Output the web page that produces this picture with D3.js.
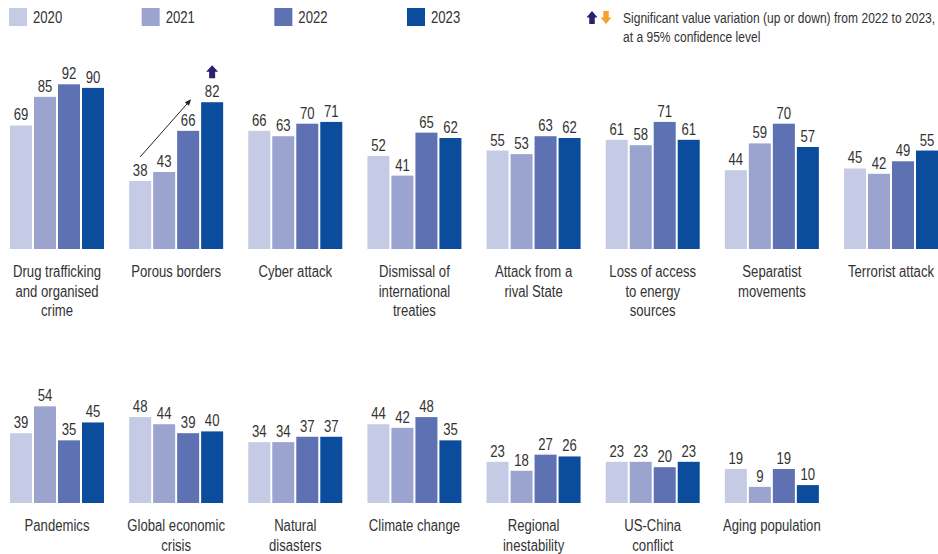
<!DOCTYPE html>
<html><head><meta charset="utf-8">
<script src="https://cdn.jsdelivr.net/npm/d3@7/dist/d3.min.js"></script>
<style>body{margin:0;background:#fff}svg{display:block}text{font-family:"Liberation Sans",Arial,sans-serif;fill:#333}</style>
</head><body><svg id="c" width="938" height="554"></svg>
<script>
const years = ["2020","2021","2022","2023"];
const row1Categories = [["Drug trafficking","and organised","crime"],["Porous borders"],["Cyber attack"],["Dismissal of","international","treaties"],["Attack from a","rival State"],["Loss of access","to energy","sources"],["Separatist","movements"],["Terrorist attack"]];
const row2Categories = [["Pandemics"],["Global economic","crisis"],["Natural","disasters"],["Climate change"],["Regional","inestability"],["US-China","conflict"],["Aging population"]];
const values2020 = [69,38,66,52,55,61,44,45, 39,48,34,44,23,23,19];
const values2021 = [85,43,63,41,53,58,59,42, 54,44,34,42,18,23,9];
const values2022 = [92,66,70,65,63,71,70,49, 35,39,37,48,27,20,19];
const values2023 = [90,82,71,62,62,61,57,55, 45,40,37,35,26,23,10];
const significantUp = ["Porous borders"];
const colors = ["#c6cbe5","#9ba4cf","#5d71b3","#0b4c9c"];
const legendNote = ["Significant value variation (up or down) from 2022 to 2023,","at a 95% confidence level"];

const svg = d3.select("#c");
const SX = 0.82, FS = 16;
function txt(g, x, y, s, anchor, size){
  return g.append("text").attr("transform",`translate(${x},${y}) scale(${SX},1)`)
    .attr("text-anchor",anchor||"start").style("font-size",(size||FS)+"px").text(s);
}
function arrowPath(cx, top, h, w, up){
  const hw=w/2, sw=w*0.25, hh=h*0.5;
  if(up) return `M${cx},${top} L${cx+hw},${top+hh} L${cx+sw},${top+hh} L${cx+sw},${top+h} L${cx-sw},${top+h} L${cx-sw},${top+hh} L${cx-hw},${top+hh} Z`;
  const b=top+h;
  return `M${cx},${b} L${cx+hw},${b-hh} L${cx+sw},${b-hh} L${cx+sw},${top} L${cx-sw},${top} L${cx-sw},${b-hh} L${cx-hw},${b-hh} Z`;
}

// legend
const legX = d3.scalePoint().domain(years).range([9,407]);
const lg = svg.append("g");
years.forEach((y,i)=>{
  lg.append("rect").attr("x",legX(y)).attr("y",8).attr("width",18).attr("height",18).attr("fill",colors[i]);
  txt(lg, legX(y)+24, 23, y);
});
lg.append("path").attr("d",arrowPath(592,11,13,11,true)).attr("fill","#2a2270");
lg.append("path").attr("d",arrowPath(606,11,13,11,false)).attr("fill","#f7a133");
txt(lg, 623, 23, legendNote[0], "start", 14.7);
txt(lg, 623, 42, legendNote[1], "start", 14.7);

const series = [values2020,values2021,values2022,values2023];
const panel = d3.scaleBand().domain(d3.range(8)).range([10,938]).paddingInner(0.211).paddingOuter(0);
const bar = d3.scaleBand().domain(years).range([0,panel.bandwidth()]).paddingInner(0.083).paddingOuter(0);
const yH = d3.scaleLinear().domain([0,100]).range([0,179]);
const rows = [{cats:row1Categories, base:249, off:0},{cats:row2Categories, base:503, off:8}];

rows.forEach(r=>{
  r.cats.forEach((lines,ci)=>{
    const idx = r.off+ci;
    const g = svg.append("g").attr("transform",`translate(${panel(ci)},0)`);
    years.forEach((yr,si)=>{
      const v = series[si][idx];
      g.append("rect").attr("x",bar(yr)).attr("width",bar.bandwidth())
        .attr("y",r.base-yH(v)).attr("height",yH(v)).attr("fill",colors[si]);
      txt(g, bar(yr)+bar.bandwidth()/2, r.base-yH(v)-5, String(v), "middle");
    });
    const cx = panel.bandwidth()/2;
    lines.forEach((l,li)=>txt(g, cx, r.base+28+li*19.5, l, "middle"));
    if(significantUp.includes(lines.join(" "))){
      const yr="2023", v=series[3][idx];
      g.append("path").attr("d",arrowPath(bar(yr)+bar.bandwidth()/2, r.base-yH(v)-37, 13, 12, true)).attr("fill","#2a2270");
      const x1 = bar("2020")+bar.bandwidth()/2, y1 = r.base-yH(series[0][idx])-24;
      const x2 = bar("2022")+bar.bandwidth()-8, y2 = r.base-yH(v)-3;
      const ang = Math.atan2(y2-y1,x2-x1), L=7, a=0.4;
      g.append("line").attr("x1",x1).attr("y1",y1).attr("x2",x2-Math.cos(ang)*4).attr("y2",y2-Math.sin(ang)*4).attr("stroke","#222").attr("stroke-width",1);
      g.append("path").attr("d",`M${x2},${y2} L${x2-L*Math.cos(ang-a)},${y2-L*Math.sin(ang-a)} L${x2-L*Math.cos(ang+a)},${y2-L*Math.sin(ang+a)} Z`).attr("fill","#222");
    }
  });
});
</script></body></html>
